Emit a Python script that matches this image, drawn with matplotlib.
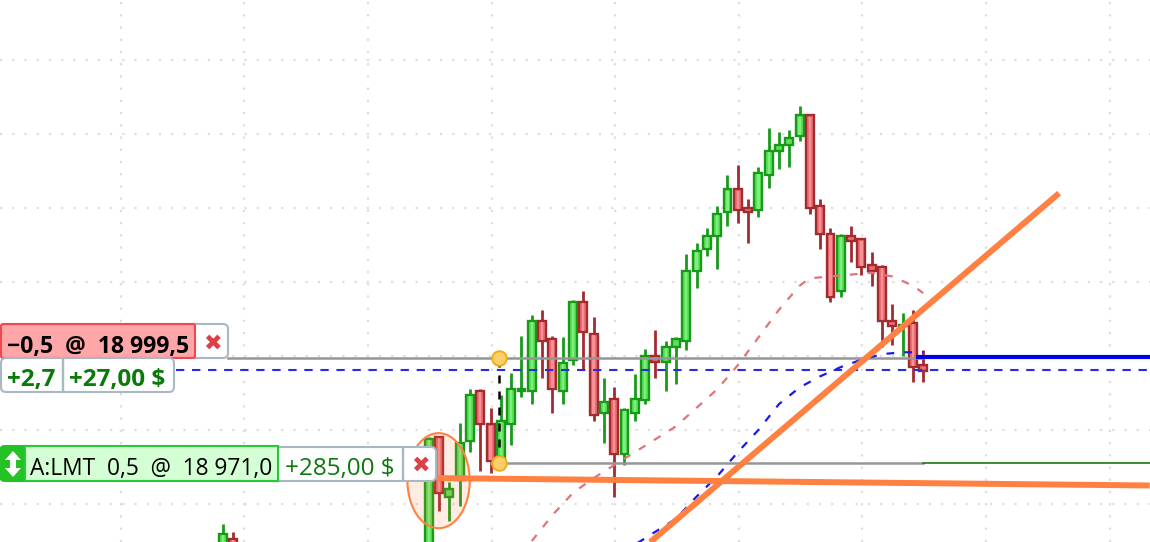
import matplotlib
matplotlib.use("Agg")
import matplotlib.pyplot as plt
from matplotlib.patches import Rectangle, FancyBboxPatch, Ellipse, Polygon
from matplotlib.transforms import Affine2D

plt.rcParams['font.family'] = ['Open Sans', 'DejaVu Sans']

# ---- data: bars (index, open, high, low, close) ----
bar_index = [-24, -23, -4, -3, -2, -1, 0, 1, 2, 3, 4, 5, 6, 7, 8, 9, 10, 11, 12, 13, 14, 15, 16, 17, 18, 19, 20,
             21, 22, 23, 24, 25, 26, 27, 28, 29, 30, 31, 32, 33, 34, 35, 36, 37, 38, 39, 40, 41, 42, 43, 44]
opens = [18945, 18950.5, 18945, 18978, 18962, 18966.5, 18977, 18990.5, 18981.5, 18970.5, 18981.5, 18990.5,
         18990.5, 19009.5, 19004.5, 18990.5, 18999, 19014.5, 19006, 18984.5, 18988.5, 18973.5, 18984.5, 18988,
         19000, 18998.5, 19002.5, 19004, 19023, 19029, 19032.5, 19039, 19045, 19040, 19039.5, 19049, 19055.5,
         19057, 19059.5, 19065, 19040.5, 19033, 19017.5, 19032.5, 19031.5, 19024.5, 19024, 19009.5, 19008,
         19009, 18997.5]
highs = [18954.5, 18952.5, 18978, 18978.5, 18966, 18982, 18991, 18991, 18986, 18989.5, 18995.5, 19005.5,
         19011, 19012.5, 19005.5, 19005, 19015, 19017.5, 19010.5, 18994, 18991.5, 18986, 18995, 19002,
         19007, 19004, 19005, 19027.5, 19030.5, 19034.5, 19040.5, 19049, 19051.5, 19042.5, 19051, 19061.5,
         19060.5, 19061, 19067.5, 19065.5, 19042.5, 19034.5, 19033, 19035, 19032, 19028, 19024.5, 19014,
         19011.5, 19012.5, 19001.5]
lows = [18940, 18940, 18940, 18958, 18955.5, 18959.5, 18974, 18969, 18968.5, 18970, 18976, 18989,
        18987, 18994, 18984.5, 18987, 18997.5, 18996.5, 18982.5, 18976.5, 18962, 18970.5, 18982.5, 18987,
        18994, 18990.5, 18992.5, 19001.5, 19018.5, 19027, 19023.5, 19035, 19036, 19030.5, 19037.5, 19045.5,
        19050.5, 19051, 19058, 19038.5, 19029, 19014.5, 19016, 19025.5, 19022, 19019, 19002.5, 19003,
        19000, 18993, 18993]
closes = [18952, 18945, 18977.5, 18963, 18964, 18976.5, 18989.5, 18981.5, 18971.5, 18982.5, 18991, 18991,
          19009.5, 19004, 18991, 18998, 19014.5, 19006.5, 18984, 18987.5, 18973.5, 18985.5, 18988.5, 19000,
          18998.5, 19002.5, 19004.5, 19023, 19028.5, 19032.5, 19038.5, 19045, 19039.5, 19039, 19049.5, 19055.5,
          19057, 19059, 19065, 19040, 19033, 19016, 19032.5, 19031, 19024, 19023, 19009.5, 19008,
          19008.5, 18997, 18996]

# moving averages
red_ma_x = [6, 8, 10, 12, 14, 16, 18, 20, 22, 24, 26, 28, 30, 32, 33, 35, 37, 39, 41, 43, 44]
red_ma_y = [18950, 18957, 18963, 18967, 18970.5, 18974, 18977.5, 18981, 18986, 18991, 18997.5, 19005, 19012.5,
            19019, 19021, 19021.5, 19022, 19022.5, 19021.5, 19019, 19017]
blue_ma_x = [16, 18, 20, 22, 24, 26, 28, 30, 32, 34, 36, 38, 40, 42, 44]
blue_ma_y = [18949, 18952.5, 18956, 18962, 18967.5, 18974, 18980, 18987, 18991.5, 18994.5, 18997, 18999, 19000.5,
             19001, 19001]

# trend lines (bar index, price)
trend1_x, trend1_y = [-3.2, 66.0], [18967, 18965]
trend2_x, trend2_y = [17.5, 57.2], [18949.7, 19044]

# order levels
short_price = 18999.5
limit_price = 18971.0
avg_price = 18996.2
position_price = 18999.6
entry_bar = 2.8

# labels
short_label = "\u22120,5  @  18 999,5"
pnl_pts = "+2,7"
pnl_usd = "+27,00 $"
limit_label = "A:LMT  0,5  @  18 971,0"
limit_pnl = "+285,00 $"

# colours
GREEN_EDGE, GREEN_FILL, GREEN_HI = "#189a18", "#5ee05e", "#7cf07c"
RED_EDGE, RED_FILL, RED_HI = "#a32a2f", "#ec6e74", "#f69296"
ORANGE = "#ff8040"
BOX_EDGE = "#a9b8c2"
TXT_GREEN = "#0b7a0b"

W, H = 1150, 542
fig = plt.figure(figsize=(W / 100, H / 100), dpi=100, facecolor="white")
ax = fig.add_axes([0, 0, 1, 1])
ax.set_xlim(-45.63, 66.02)
ax.set_ylim(18949.73, 19096.2)
ax.axis("off")

# pixel-space transform for the order widgets (y downward from top)
px = Affine2D().scale(1, -1).translate(0, H)

# grid
grid_kw = dict(color="#dcdce4", lw=1.6, linestyle=(0, (1, 4.5)), zorder=1)
for p in range(18960, 19100, 20):
    ax.axhline(p, **grid_kw)
for k in range(-3, 6):
    ax.axvline(2.1 + 12 * k, **grid_kw)

# candles
width = 0.76
for i, o, h, l, c in zip(bar_index, opens, highs, lows, closes):
    up = c >= o
    edge, fill, hi = (GREEN_EDGE, GREEN_FILL, GREEN_HI) if up else (RED_EDGE, RED_FILL, RED_HI)
    lo, hgt = min(o, c), abs(c - o)
    ax.vlines(i, l, h, color=edge, lw=2.0, zorder=3)
    ax.bar(i, hgt, width, lo, color=fill, edgecolor=edge, linewidth=1.7, zorder=4)
    if hgt > 2:
        ax.bar(i, hgt - 0.6, width * 0.3, lo + 0.3, color=hi, linewidth=0, zorder=5)

# level lines
ax.plot([-23.5, 44], [short_price, short_price], color="#969696", lw=1.8, zorder=6)
ax.plot([2.0, 44], [limit_price, limit_price], color="#969696", lw=1.8, zorder=6)
ax.plot([44, 66.02], [limit_price, limit_price], color="#1a7a12", lw=1.2, zorder=6)
ax.plot([-28.5, 66.02], [avg_price, avg_price], color="#2a2ae0", lw=1.5, linestyle=(0, (4, 3.7)), zorder=6)
ax.plot([43.3, 66.02], [position_price, position_price], color="#0000e8", lw=3.0, zorder=7, solid_capstyle="butt")

# moving averages
ax.plot(red_ma_x, red_ma_y, color="#e07478", lw=1.6, linestyle=(0, (3.5, 4.5)), zorder=6)
ax.plot(blue_ma_x, blue_ma_y, color="#1a1ae6", lw=1.6, linestyle=(0, (3.5, 4.5)), zorder=6)

# trade connector
ax.plot([entry_bar, entry_bar], [limit_price, short_price], color="black", lw=1.8,
        linestyle=(0, (3.2, 3.2)), zorder=6)
ax.plot([entry_bar, entry_bar], [short_price, limit_price], linestyle="none", marker="o", ms=10.5,
        mfc="#fbd06a", mec="#f2ad16", mew=1.4, zorder=9)

# highlighted ellipse
ax.add_patch(Ellipse((-3.05, 18966.3), 6.05, 25.7, facecolor=ORANGE, alpha=0.14, edgecolor="none", zorder=7))
ax.add_patch(Ellipse((-3.05, 18966.3), 6.05, 25.7, facecolor="none", edgecolor=ORANGE, lw=1.5, zorder=7))

# trend lines
ax.plot(trend1_x, trend1_y, color=ORANGE, lw=4.3, zorder=8, solid_capstyle="butt")
ax.plot(trend2_x, trend2_y, color=ORANGE, lw=4.3, zorder=8, solid_capstyle="butt")


def box(x0, y0, x1, y1, fc, ec, r=0.0, lw=1.5, z=12):
    if r:
        p = FancyBboxPatch((x0 + r, y0 + r), x1 - x0 - 2 * r, y1 - y0 - 2 * r,
                           boxstyle=f"round,pad={r},rounding_size={r}", fc=fc, ec=ec, lw=lw,
                           transform=px, zorder=z, clip_on=False)
    else:
        p = Rectangle((x0, y0), x1 - x0, y1 - y0, fc=fc, ec=ec, lw=lw, transform=px, zorder=z, clip_on=False)
    fig.add_artist(p)


def label(x, y, s, color="black", weight="normal", size=15, ha="left"):
    fig.text(x, y, s, color=color, weight=weight, size=size, ha=ha, va="center_baseline",
             transform=px, zorder=20)


def cross(cx, cy):
    fig.text(cx, cy, "\u2716", color="#dc4046", size=16, ha="center", va="center", family="DejaVu Sans",
             transform=px, zorder=20)


# short order widget
box(186, 324, 228, 358, "white", BOX_EDGE, r=5)
cross(212, 343.5)
box(1, 324, 195, 358, "#ffa6a8", "#f0484f", r=2)
label(7, 344, short_label, weight="bold", size=16.6)
box(1, 358, 174, 392, "white", BOX_EDGE, r=5)
box(62, 358, 63.5, 392, BOX_EDGE, BOX_EDGE, lw=0.3, z=13)
label(7, 377, pnl_pts, color=TXT_GREEN, weight="bold", size=17.5)
label(69, 377, pnl_usd, color=TXT_GREEN, weight="bold", size=17.5)

# limit order widget
box(270, 447, 436, 481, "white", BOX_EDGE, r=5)
box(402, 447, 403.5, 481, BOX_EDGE, BOX_EDGE, lw=0.3, z=13)
box(0, 446, 40, 481, "#22c322", "#22c322", r=5)
box(25, 446, 278, 481, "#d4ffd4", "#28c83c", lw=1.5, z=13)
label(30, 466, limit_label, size=16.4)
label(285, 466, limit_pnl, color=TXT_GREEN, size=17.5)
cross(420, 466)
fig.add_artist(Polygon([(13, 451), (21, 460), (16, 460), (16, 468), (21, 468), (13, 477), (5, 468), (10, 468),
                        (10, 460), (5, 460)], closed=True, fc="white", ec="none", transform=px, zorder=20))

fig.savefig("out.png", dpi=100)
